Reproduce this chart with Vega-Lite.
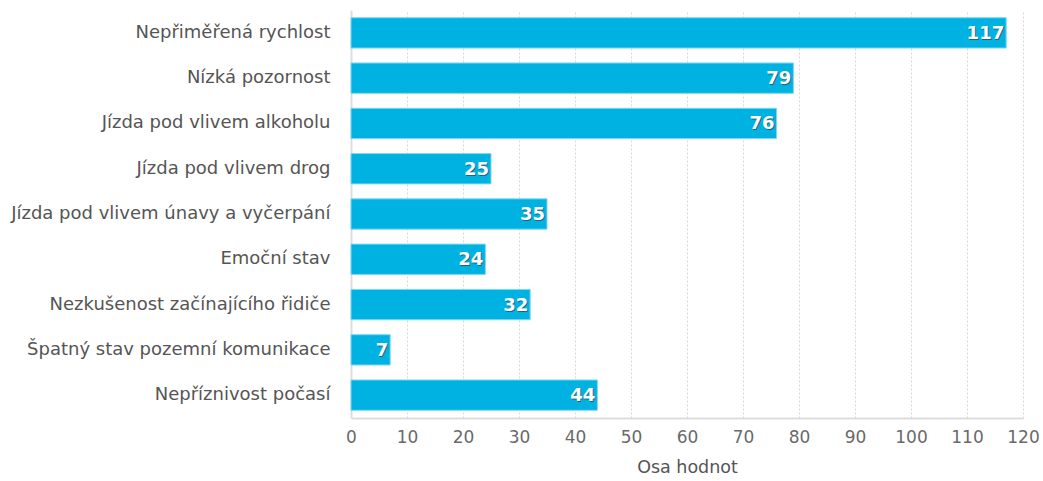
{
  "$schema": "https://vega.github.io/schema/vega-lite/v6.json",
  "width": 672,
  "height": 408,
  "autosize": "none",
  "padding": {"left": 351, "top": 10, "right": 20, "bottom": 63},
  "background": "white",
  "config": {
    "font": "DejaVu Sans",
    "view": {"stroke": null}
  },
  "data": {
    "values": [
      {"cause": "Nepřiměřená rychlost", "value": 117},
      {"cause": "Nízká pozornost", "value": 79},
      {"cause": "Jízda pod vlivem alkoholu", "value": 76},
      {"cause": "Jízda pod vlivem drog", "value": 25},
      {"cause": "Jízda pod vlivem únavy a vyčerpání", "value": 35},
      {"cause": "Emoční stav", "value": 24},
      {"cause": "Nezkušenost začínajícího řidiče", "value": 32},
      {"cause": "Špatný stav pozemní komunikace", "value": 7},
      {"cause": "Nepříznivost počasí", "value": 44}
    ]
  },
  "encoding": {
    "y": {
      "field": "cause",
      "type": "nominal",
      "sort": null,
      "scale": {"paddingInner": 0.33, "paddingOuter": 0.17},
      "axis": {
        "title": null,
        "ticks": false,
        "domain": true,
        "domainColor": "#dddddd",
        "domainWidth": 2,
        "labelFontSize": 18,
        "labelColor": "#555555",
        "labelPadding": 21,
        "labelLimit": 400
      }
    },
    "x": {
      "field": "value",
      "type": "quantitative",
      "scale": {"domain": [0, 120], "nice": false},
      "axis": {
        "title": "Osa hodnot",
        "titleFontSize": 17.5,
        "titleFontWeight": "normal",
        "titleColor": "#555555",
        "titlePadding": 13,
        "values": [0,10,20,30,40,50,60,70,80,90,100,110,120],
        "labelOverlap": false,
        "labelFlush": false,
        "ticks": false,
        "labelFontSize": 17,
        "labelColor": "#6a6a6a",
        "labelPadding": 11,
        "domainColor": "#dddddd",
        "domainWidth": 2,
        "grid": true,
        "gridColor": "#d8d8d8",
        "gridDash": [2, 2],
        "gridWidth": 1
      }
    }
  },
  "layer": [
    {"mark": {"type": "bar", "color": "#00b2e2", "stroke": "#7fd8f0", "strokeWidth": 1}},
    {
      "mark": {"type": "text", "align": "right", "baseline": "middle", "dx": -1, "dy": 2, "fontSize": 18, "fontWeight": "bold", "color": "#333333", "opacity": 0.6},
      "encoding": {"text": {"field": "value", "type": "quantitative"}}
    },
    {
      "mark": {"type": "text", "align": "right", "baseline": "middle", "dx": -2, "dy": 1, "fontSize": 18, "fontWeight": "bold", "color": "white"},
      "encoding": {"text": {"field": "value", "type": "quantitative"}}
    }
  ]
}
